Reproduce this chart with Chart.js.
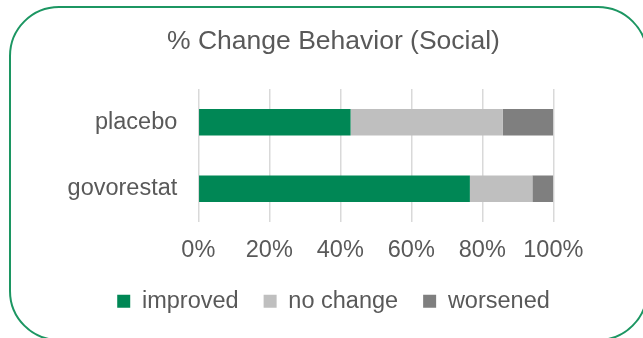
<!DOCTYPE html>
<html>
<head>
<meta charset="utf-8">
<script src="https://cdn.jsdelivr.net/npm/chart.js@4.4.1/dist/chart.umd.min.js"></script>
<style>
  html, body { margin: 0; padding: 0; background: #fff; overflow: hidden; }
  .wrap { position: relative; width: 643px; height: 338px; overflow: hidden; }
  .frame { position: absolute; left: 9px; top: 6px; width: 639px; height: 335px; box-sizing: border-box; border: 2px solid #1c9662; border-radius: 50px; }
  canvas { position: absolute; left: 0; top: 0; }
</style>
</head>
<body>
<div class="wrap">
  <div class="frame"></div>
  <canvas id="chart" width="643" height="323"></canvas>
</div>
<script>
const groups = ['placebo', 'govorestat'];
const seriesNames = ['improved', 'no change', 'worsened'];
const improved = [42.9, 76.5];
const noChange = [42.9, 17.6];
const worsened = [14.2, 5.9];
const xTicks = [0, 20, 40, 60, 80, 100];

const txt = '#595959';
Chart.defaults.font.family = "'Liberation Sans', Arial, sans-serif";
Chart.defaults.color = txt;

new Chart(document.getElementById('chart'), {
  type: 'bar',
  data: {
    labels: groups,
    datasets: [
      { label: seriesNames[0], data: improved, backgroundColor: '#008755' },
      { label: seriesNames[1], data: noChange, backgroundColor: '#bfbfbf' },
      { label: seriesNames[2], data: worsened, backgroundColor: '#7f7f7f' },
    ].map(d => ({ ...d, barPercentage: 0.4, categoryPercentage: 1, borderWidth: 0 })),
  },
  options: {
    indexAxis: 'y', responsive: false, animation: false,
    layout: { padding: { left: 24, right: 0, top: 0, bottom: 0 } },
    plugins: {
      title: { display: true, text: '% Change Behavior (Social)', color: txt, font: { size: 26.5, weight: 'normal' }, padding: { top: 25.6, bottom: 31.6 } },
      legend: { position: 'bottom', labels: { boxWidth: 13, boxHeight: 13, padding: 25, font: { size: 23.5 }, color: txt } },
      tooltip: { enabled: false },
    },
    scales: {
      x: { stacked: true, min: 0, max: 100,
        afterBuildTicks: s => { s.ticks = xTicks.map(v => ({ value: v })); },
        grid: { color: '#d9d9d9', lineWidth: 1.5, drawTicks: false }, border: { display: false },
        ticks: { padding: 14, font: { size: 23.5 }, maxRotation: 0, autoSkip: false, callback: v => v + '%' },
        afterFit: s => { s.height = 42.5; } },
      y: { stacked: true, grid: { display: false, drawTicks: false }, border: { display: false },
        ticks: { padding: 21, font: { size: 23.5 } },
        afterFit: s => { s.width = 174.3; } },
      // empty right-hand axis, only reserves room right of the plot
      pad: { type: 'linear', position: 'right', grid: { display: false }, border: { display: false }, ticks: { display: false },
        afterFit: s => { s.width = 89.7; } },
    },
  },
});
</script>
</body>
</html>
